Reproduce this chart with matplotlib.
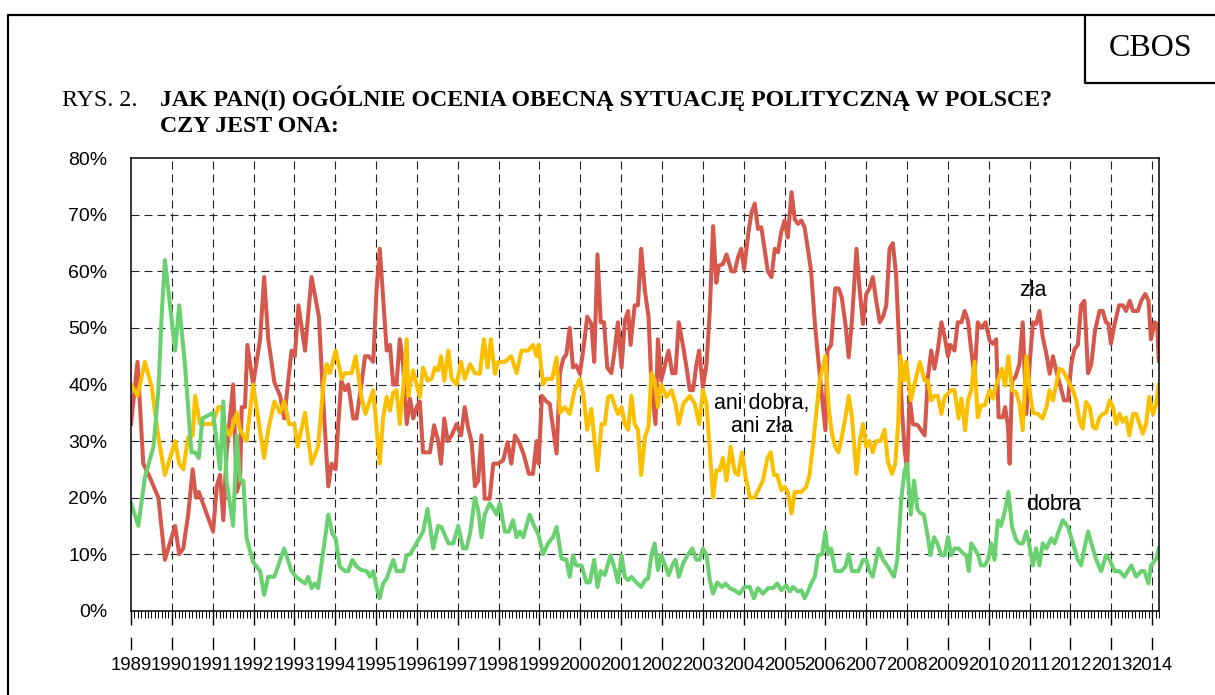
import numpy as np
import matplotlib
matplotlib.use("Agg")
import matplotlib.pyplot as plt
import matplotlib.transforms as mtransforms
from matplotlib.lines import Line2D

######################
# data (survey date as decimal year, percent)
zla_x = [1989.00, 1989.16, 1989.30, 1989.46, 1989.67, 1989.83, 1990.08, 1990.18, 1990.28, 1990.40,
         1990.51, 1990.59, 1990.66, 1991.01, 1991.10, 1991.18, 1991.26, 1991.34, 1991.50, 1991.59,
         1991.67, 1991.71, 1991.79, 1991.85, 1991.99, 1992.16, 1992.26, 1992.36, 1992.51, 1992.65,
         1992.75, 1992.93, 1993.01, 1993.10, 1993.26, 1993.42, 1993.60, 1993.71, 1993.83, 1993.91,
         1994.01, 1994.07, 1994.15, 1994.24, 1994.32, 1994.44, 1994.52, 1994.64, 1994.73, 1994.82,
         1994.93, 1995.01, 1995.09, 1995.17, 1995.26, 1995.34, 1995.42, 1995.50, 1995.58, 1995.66,
         1995.75, 1995.83, 1995.91, 1995.99, 1996.07, 1996.15, 1996.32, 1996.42, 1996.52, 1996.59,
         1996.67, 1996.75, 1996.85, 1996.97, 1997.08, 1997.17, 1997.25, 1997.34, 1997.42, 1997.50,
         1997.58, 1997.66, 1997.78, 1997.87, 1997.99, 1998.11, 1998.22, 1998.31, 1998.40, 1998.52,
         1998.62, 1998.74, 1998.84, 1998.93, 1998.98, 1999.06, 1999.17, 1999.25, 1999.33, 1999.42,
         1999.50, 1999.58, 1999.66, 1999.74, 1999.82, 1999.90, 1999.99, 2000.07, 2000.17, 2000.27,
         2000.34, 2000.42, 2000.50, 2000.58, 2000.66, 2000.76, 2000.84, 2000.92, 2001.01, 2001.09,
         2001.17, 2001.23, 2001.33, 2001.41, 2001.49, 2001.58, 2001.67, 2001.74, 2001.84, 2001.90,
         2001.98, 2002.08, 2002.16, 2002.25, 2002.33, 2002.41, 2002.52, 2002.60, 2002.68, 2002.76,
         2002.84, 2002.91, 2003.00, 2003.09, 2003.17, 2003.25, 2003.33, 2003.39, 2003.49, 2003.58,
         2003.70, 2003.78, 2003.86, 2003.94, 2004.01, 2004.11, 2004.19, 2004.27, 2004.35, 2004.43,
         2004.51, 2004.59, 2004.68, 2004.76, 2004.84, 2004.92, 2005.00, 2005.08, 2005.17, 2005.25,
         2005.33, 2005.41, 2005.49, 2005.57, 2005.65, 2005.74, 2005.82, 2005.90, 2006.00, 2006.05,
         2006.14, 2006.24, 2006.32, 2006.40, 2006.49, 2006.57, 2006.65, 2006.76, 2006.84, 2006.92,
         2007.00, 2007.08, 2007.16, 2007.24, 2007.33, 2007.41, 2007.49, 2007.57, 2007.65, 2007.73,
         2007.82, 2007.87, 2007.94, 2008.00, 2008.06, 2008.14, 2008.26, 2008.43, 2008.51, 2008.59,
         2008.67, 2008.75, 2008.84, 2008.92, 2009.00, 2009.06, 2009.16, 2009.24, 2009.33, 2009.41,
         2009.49, 2009.57, 2009.65, 2009.73, 2009.81, 2009.92, 2010.02, 2010.10, 2010.18, 2010.24,
         2010.34, 2010.40, 2010.47, 2010.51, 2010.57, 2010.65, 2010.75, 2010.83, 2010.92, 2011.00,
         2011.08, 2011.16, 2011.24, 2011.32, 2011.41, 2011.49, 2011.57, 2011.65, 2011.76, 2011.84,
         2011.94, 2012.02, 2012.10, 2012.18, 2012.26, 2012.34, 2012.43, 2012.51, 2012.60, 2012.71,
         2012.79, 2012.87, 2012.93, 2012.99, 2013.08, 2013.19, 2013.28, 2013.36, 2013.45, 2013.53,
         2013.65, 2013.73, 2013.83, 2013.91, 2013.97, 2014.06, 2014.12, 2014.16]
zla_y = [33, 44, 26, 23.6, 20, 9, 15, 10, 11, 17,
         25, 20, 21, 14, 22, 24, 16, 28, 40, 21,
         23, 36, 36, 47, 40, 48, 59, 48, 40.4, 38,
         34, 46, 45, 54, 46, 59, 52, 36.6, 22, 26,
         25, 32.5, 40.7, 39, 40, 34, 34, 40, 45, 45,
         44, 56.6, 64, 55.4, 46, 47, 40, 40, 48, 43.6,
         33, 37.5, 34, 36, 37, 28, 28, 32.8, 30, 26,
         34, 30, 31, 33, 31, 36, 32.5, 29.8, 22, 23,
         31, 19.8, 19.8, 26, 26, 26.6, 29.8, 26, 31, 29.5,
         27.5, 24.2, 24.2, 30, 26, 38, 37, 36.6, 32.5, 27.8,
         42, 44.5, 45.4, 50, 43, 43.4, 41.9, 46, 52, 50.7,
         44, 63, 51, 51, 43, 42, 46, 51, 43, 51.3,
         53, 47, 54, 54, 64, 56.6, 52, 40, 33, 48,
         40.7, 43.6, 46, 42, 42, 51, 46.6, 43, 39, 39,
         43.4, 46, 39.5, 43.6, 53, 68, 58, 61, 61.3, 63,
         60, 60, 62.5, 64, 60.4, 66.6, 70.4, 72, 67.5, 67.8,
         64, 60, 59, 64, 63.4, 67, 69, 66, 74, 69.2,
         68.4, 69, 67.8, 64, 60, 51, 44.8, 39, 31.9, 46,
         47, 57, 57, 55.4, 50.7, 44.8, 51.3, 64, 56.6, 50.7,
         56, 57, 59, 55, 51, 52, 54, 64, 65, 59.5,
         44.8, 36, 28.4, 24.8, 37.8, 33, 32.8, 31, 41.3, 46,
         42.8, 46, 51, 48.4, 45, 47, 46, 51, 51, 53,
         51.3, 46, 41.3, 51, 50, 51, 47.8, 47.2, 48, 34.2,
         34.2, 36, 32.5, 26, 40.7, 41.3, 43.6, 51, 34.8, 43.6,
         51, 50.7, 53, 48.4, 45.4, 41.9, 45, 42.5, 39.5, 37.2,
         37.2, 43.6, 46.3, 47, 54, 54.8, 42, 43.6, 49.5, 53,
         53, 51, 50.7, 47.2, 50.7, 54, 54, 53, 54.8, 53,
         53, 54.8, 56, 54.8, 48, 51, 50.7, 44.2]

ani_x = [1989.00, 1989.16, 1989.34, 1989.51, 1989.67, 1989.83, 1990.08, 1990.18, 1990.28, 1990.40,
         1990.51, 1990.57, 1990.69, 1990.85, 1990.99, 1991.14, 1991.22, 1991.30, 1991.42, 1991.59,
         1991.67, 1991.83, 1991.99, 1992.26, 1992.36, 1992.51, 1992.65, 1992.75, 1992.87, 1993.00,
         1993.08, 1993.26, 1993.42, 1993.58, 1993.71, 1993.79, 1993.87, 1994.01, 1994.16, 1994.24,
         1994.40, 1994.50, 1994.64, 1994.74, 1994.93, 1995.09, 1995.17, 1995.26, 1995.34, 1995.42,
         1995.50, 1995.58, 1995.66, 1995.75, 1995.79, 1995.83, 1995.91, 1995.99, 1996.07, 1996.15,
         1996.26, 1996.36, 1996.44, 1996.52, 1996.59, 1996.67, 1996.77, 1996.85, 1996.97, 1997.08,
         1997.17, 1997.30, 1997.42, 1997.54, 1997.64, 1997.73, 1997.81, 1997.91, 1997.99, 1998.15,
         1998.31, 1998.44, 1998.56, 1998.72, 1998.84, 1998.93, 1998.98, 1999.09, 1999.17, 1999.31,
         1999.42, 1999.50, 1999.62, 1999.74, 1999.86, 1999.99, 2000.07, 2000.17, 2000.27, 2000.42,
         2000.52, 2000.60, 2000.68, 2000.76, 2000.92, 2001.01, 2001.09, 2001.17, 2001.25, 2001.33,
         2001.41, 2001.49, 2001.58, 2001.67, 2001.74, 2001.82, 2001.90, 2001.98, 2002.11, 2002.23,
         2002.33, 2002.41, 2002.52, 2002.68, 2002.80, 2002.91, 2003.00, 2003.09, 2003.17, 2003.25,
         2003.33, 2003.41, 2003.49, 2003.58, 2003.68, 2003.78, 2003.86, 2003.96, 2004.04, 2004.15,
         2004.27, 2004.47, 2004.58, 2004.66, 2004.74, 2004.82, 2004.92, 2005.00, 2005.08, 2005.17,
         2005.25, 2005.41, 2005.53, 2005.61, 2005.70, 2005.74, 2005.86, 2006.00, 2006.08, 2006.16,
         2006.24, 2006.32, 2006.40, 2006.49, 2006.57, 2006.65, 2006.76, 2006.84, 2006.92, 2007.00,
         2007.08, 2007.16, 2007.24, 2007.35, 2007.45, 2007.53, 2007.63, 2007.71, 2007.78, 2007.84,
         2007.92, 2007.98, 2008.09, 2008.18, 2008.31, 2008.43, 2008.51, 2008.59, 2008.67, 2008.75,
         2008.84, 2008.92, 2009.08, 2009.16, 2009.26, 2009.33, 2009.42, 2009.49, 2009.57, 2009.65,
         2009.73, 2009.81, 2009.90, 2010.02, 2010.10, 2010.18, 2010.26, 2010.32, 2010.40, 2010.48,
         2010.57, 2010.67, 2010.75, 2010.83, 2010.92, 2011.00, 2011.08, 2011.20, 2011.32, 2011.41,
         2011.49, 2011.57, 2011.65, 2011.73, 2011.81, 2011.94, 2012.06, 2012.14, 2012.22, 2012.30,
         2012.38, 2012.47, 2012.55, 2012.63, 2012.71, 2012.79, 2012.87, 2012.96, 2013.04, 2013.12,
         2013.20, 2013.28, 2013.36, 2013.44, 2013.53, 2013.61, 2013.69, 2013.77, 2013.85, 2013.93,
         2014.02, 2014.10, 2014.16]
ani_y = [40, 38, 44, 39.5, 30.7, 24, 30, 26, 25, 30.7,
         31, 38, 33, 33, 33, 36, 36, 32.5, 31, 35,
         32, 30, 40, 27, 32, 37, 35, 37, 33, 33,
         29, 35, 26, 29, 40, 43.6, 42, 46, 41, 42,
         42, 45, 37.8, 34.8, 39, 26, 34, 37.8, 35.4, 38.6,
         39, 33, 39, 48, 38, 40, 42.5, 40, 37.8, 43,
         40.7, 41, 43, 42.5, 45, 40.7, 46, 41, 40, 44,
         41, 43.6, 42, 41.9, 48, 43, 48, 41.9, 44, 44,
         45, 42, 46, 46, 47, 45, 47, 40, 41, 41,
         44.8, 35, 36, 34.8, 39, 41, 38.4, 32, 35.7, 24.8,
         33, 33, 37.8, 38, 34.8, 36, 33, 32, 38, 33,
         32, 24, 30.7, 32.5, 42, 40.7, 36, 40, 37.8, 39,
         36.6, 33, 36.6, 38, 36.6, 33, 39, 36.6, 28.4, 20,
         24.8, 24.8, 27, 23, 29, 24.5, 24, 28, 24, 20,
         20, 23, 27, 28, 24, 24, 21.3, 21.9, 21, 17.2,
         21, 21, 21.9, 24, 29.5, 32.5, 40.7, 45, 36, 31.3,
         29, 28, 30.7, 34.2, 38, 34.2, 24.2, 30, 33, 29,
         30, 28, 30, 30, 32, 26.3, 24.2, 26, 33, 45,
         40.7, 44, 37.2, 40, 44, 40.7, 40.7, 37.2, 38, 38,
         34.8, 37.8, 39, 39, 34, 37.5, 31.9, 37.2, 39, 44,
         34.2, 36.3, 36.3, 39, 37.5, 40, 41.3, 42.8, 39.8, 45,
         39, 38.6, 36.6, 31.9, 45, 39, 35, 34.8, 34, 36,
         39, 37.2, 40, 42.8, 42.5, 40.7, 39, 37.2, 33.6, 32.2,
         36.9, 36, 32.5, 32.2, 34.2, 34.8, 35, 37.2, 36, 33,
         34.8, 33.4, 34.2, 31, 34.8, 34.8, 33, 31.3, 33, 37.8,
         34.8, 36.6, 40]

dobra_x = [1989.00, 1989.18, 1989.34, 1989.55, 1989.67, 1989.75, 1989.83, 1990.08, 1990.18, 1990.32,
           1990.48, 1990.57, 1990.66, 1990.75, 1991.01, 1991.18, 1991.26, 1991.34, 1991.50, 1991.59,
           1991.67, 1991.75, 1991.83, 1991.99, 1992.16, 1992.26, 1992.36, 1992.51, 1992.75, 1992.93,
           1993.04, 1993.26, 1993.34, 1993.42, 1993.50, 1993.58, 1993.71, 1993.83, 1993.93, 1994.01,
           1994.11, 1994.24, 1994.32, 1994.42, 1994.52, 1994.64, 1994.77, 1994.85, 1994.93, 1995.01,
           1995.09, 1995.17, 1995.26, 1995.42, 1995.50, 1995.66, 1995.75, 1995.83, 1995.99, 1996.15,
           1996.26, 1996.40, 1996.52, 1996.60, 1996.77, 1996.89, 1997.01, 1997.13, 1997.21, 1997.30,
           1997.42, 1997.50, 1997.58, 1997.66, 1997.78, 1997.87, 1997.95, 1998.03, 1998.15, 1998.25,
           1998.35, 1998.44, 1998.52, 1998.60, 1998.76, 1998.88, 1998.97, 1999.09, 1999.21, 1999.33,
           1999.42, 1999.54, 1999.66, 1999.74, 1999.82, 1999.90, 2000.03, 2000.15, 2000.23, 2000.34,
           2000.42, 2000.50, 2000.60, 2000.74, 2000.84, 2000.92, 2001.01, 2001.09, 2001.17, 2001.25,
           2001.37, 2001.49, 2001.58, 2001.66, 2001.74, 2001.82, 2001.90, 2001.98, 2002.08, 2002.16,
           2002.25, 2002.33, 2002.41, 2002.52, 2002.60, 2002.74, 2002.84, 2002.92, 2003.00, 2003.09,
           2003.17, 2003.25, 2003.35, 2003.47, 2003.55, 2003.66, 2003.78, 2003.90, 2004.02, 2004.15,
           2004.25, 2004.35, 2004.47, 2004.60, 2004.72, 2004.82, 2004.92, 2005.04, 2005.13, 2005.21,
           2005.33, 2005.41, 2005.49, 2005.57, 2005.65, 2005.74, 2005.82, 2005.92, 2006.00, 2006.06,
           2006.14, 2006.24, 2006.39, 2006.49, 2006.57, 2006.65, 2006.81, 2006.92, 2007.00, 2007.08,
           2007.16, 2007.30, 2007.41, 2007.53, 2007.68, 2007.76, 2007.86, 2007.94, 2008.00, 2008.09,
           2008.17, 2008.25, 2008.33, 2008.41, 2008.51, 2008.57, 2008.66, 2008.74, 2008.84, 2008.92,
           2009.00, 2009.08, 2009.16, 2009.26, 2009.39, 2009.45, 2009.51, 2009.57, 2009.65, 2009.73,
           2009.81, 2009.90, 2009.98, 2010.06, 2010.14, 2010.22, 2010.30, 2010.40, 2010.48, 2010.57,
           2010.67, 2010.75, 2010.83, 2010.92, 2011.00, 2011.08, 2011.16, 2011.24, 2011.32, 2011.41,
           2011.53, 2011.61, 2011.69, 2011.81, 2011.94, 2012.06, 2012.18, 2012.26, 2012.34, 2012.43,
           2012.51, 2012.63, 2012.75, 2012.87, 2012.96, 2013.08, 2013.20, 2013.32, 2013.49, 2013.61,
           2013.73, 2013.81, 2013.91, 2013.97, 2014.10, 2014.16]
dobra_y = [19, 15, 23.6, 29, 39, 52, 62, 46, 54, 43.6,
           28, 28, 27, 34, 35, 25, 37, 23, 15, 31,
           23, 23, 12.8, 8.6, 7, 2.8, 6, 6, 11, 7,
           6, 4.8, 6, 4, 4.8, 4, 10.7, 17, 13.6, 12.8,
           7.8, 7, 7, 9, 7.8, 7.2, 7, 6, 7, 4.2,
           2.2, 4.8, 5.7, 9, 7, 7, 9.8, 10, 11.9, 14,
           18, 11, 15, 14.8, 11.9, 11.9, 15, 11, 11, 13.6,
           20, 17.8, 13, 17, 19, 18, 17, 19, 14, 14,
           16, 13, 14, 13, 17, 14.8, 13.6, 10, 11.9, 13,
           14.8, 9.2, 9, 6, 9.8, 8, 8, 5, 5, 9,
           4.2, 7, 6.3, 9.8, 7.5, 5, 9.8, 6, 5.4, 6,
           5, 4.2, 5.4, 5.7, 9.8, 11.9, 7.2, 9.8, 8, 6.3,
           8, 9, 6, 8.4, 9.5, 11, 9, 9, 11, 9.8,
           5.4, 3, 5, 4.2, 4.8, 4, 3.6, 3, 4.2, 4.2,
           2.2, 4, 3, 4, 4, 4.8, 3.6, 4.5, 3.4, 4.2,
           3.4, 3.6, 2.2, 3.4, 4.8, 6, 9.8, 10, 14, 10,
           11, 7, 7, 7.8, 10, 7, 7, 9, 9, 7,
           6, 11, 9, 7.8, 6, 9, 20, 24.8, 26, 17,
           23, 18, 17.2, 17, 13, 9.8, 13, 11.9, 9.8, 9.8,
           13, 9.8, 11, 11, 10, 9.8, 7, 11.9, 11, 10,
           8, 8, 9, 11.9, 9, 16, 15, 17.8, 21, 14.8,
           12.5, 11.9, 11.9, 14, 11.3, 8, 11, 8, 11.9, 11,
           12.8, 11.9, 13.6, 16, 14.8, 11.9, 9, 8, 11, 14,
           11.9, 9, 7, 9.8, 9, 7, 7, 6, 8, 6,
           7, 7, 4.8, 8, 9.2, 11]

year_labels = [str(y) for y in range(1989, 2015)]
y_ticks = [0, 10, 20, 30, 40, 50, 60, 70, 80]

col_zla = '#D6574B'
col_ani = '#FAC000'
col_dobra = '#6AD170'

W, H = 1215, 695
fig = plt.figure(figsize=(W / 100, H / 100), dpi=100)

def fx(px):
    return px / W

def fy(py):
    return 1 - py / H

# outer frame + CBOS box
fig.add_artist(Line2D([fx(8), fx(8), 1.0], [0, fy(15), fy(15)], transform=fig.transFigure,
                      color='black', lw=1.6))
fig.add_artist(Line2D([fx(1085), fx(1085), 1.0], [fy(15), fy(82.5), fy(82.5)],
                      transform=fig.transFigure, color='black', lw=1.6))
fig.text(fx(1151), fy(49), 'CBOS', fontsize=23, family='Liberation Serif', ha='center', va='center')

# title
fig.text(fx(62), fy(106), 'RYS. 2.', fontsize=17.2, family='Liberation Serif', ha='left', va='baseline')
fig.text(fx(160), fy(106), 'JAK PAN(I) OGÓLNIE OCENIA OBECNĄ SYTUACJĘ POLITYCZNĄ W POLSCE?',
         fontsize=17.2, family='Liberation Serif', weight='bold', ha='left', va='baseline')
fig.text(fx(160), fy(132), 'CZY JEST ONA:', fontsize=17.2, family='Liberation Serif',
         weight='bold', ha='left', va='baseline')

ax = fig.add_axes([fx(131), fy(610.7), fx(1159) - fx(131), fy(158.3) - fy(610.7)])

ax.plot(zla_x, zla_y, color=col_zla, lw=2.9, solid_joinstyle='round')
ax.plot(ani_x, ani_y, color=col_ani, lw=2.9, solid_joinstyle='round')
ax.plot(dobra_x, dobra_y, color=col_dobra, lw=2.9, solid_joinstyle='round')

ax.set_xlim(1989, 2014.16)
ax.set_ylim(0, 80)

years = np.arange(1989, 2015)
ax.set_xticks(years)
ax.set_xticklabels(year_labels, family='Liberation Sans', fontsize=13.4)
ax.set_xticks(np.arange(1989, 2014.17, 1 / 12), minor=True)
ax.tick_params(axis='x', which='major', direction='out', length=10, width=1, pad=23)
ax.tick_params(axis='x', which='minor', direction='out', length=5, width=0.7)

ax.set_yticks(y_ticks)
ax.set_yticklabels([f'{v}%' for v in y_ticks], family='Liberation Sans', fontsize=14)
ax.tick_params(axis='y', which='both', length=0, pad=17)

# dashed grid
for v in y_ticks[1:-1]:
    ax.axhline(v, color='#222222', lw=0.8, linestyle=(0, (7.2, 4.5)), zorder=0.5)
for yr in years[1:]:
    ax.axvline(yr, color='#222222', lw=0.8, linestyle=(0, (7.2, 4.5)), zorder=0.5)

# dash under each year tick (as in the original)
trans = mtransforms.blended_transform_factory(ax.transData, ax.transAxes)
for yr in years:
    ax.plot([yr, yr], [-0.0597, -0.0853], color='black', lw=1, transform=trans, clip_on=False)

for s in ax.spines.values():
    s.set_linewidth(1.1)

# series labels
ax.text(2011.07, 56.7, 'zła', fontsize=15.5, family='Liberation Sans', ha='center', va='center')
ax.text(2011.58, 18.7, 'dobra', fontsize=15.5, family='Liberation Sans', ha='center', va='center')
ax.text(2004.44, 34.6, 'ani dobra,\nani zła', fontsize=15.5, family='Liberation Sans',
        ha='center', va='center', linespacing=1.1)

fig.savefig('out.png', dpi=100)
